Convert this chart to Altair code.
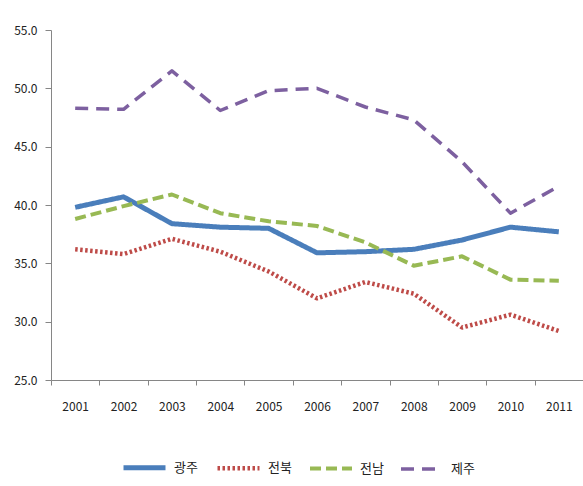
import altair as alt
import pandas as pd

years = ["2001", "2002", "2003", "2004", "2005", "2006", "2007", "2008", "2009", "2010", "2011"]
gwangju = [39.8, 40.7, 38.4, 38.1, 38.0, 35.9, 36.0, 36.2, 37.0, 38.1, 37.7]
jeonbuk = [36.2, 35.8, 37.1, 36.0, 34.3, 32.0, 33.4, 32.4, 29.5, 30.6, 29.2]
jeonnam = [38.8, 39.9, 40.9, 39.3, 38.6, 38.2, 36.8, 34.8, 35.6, 33.6, 33.5]
jeju = [48.3, 48.2, 51.5, 48.1, 49.8, 50.0, 48.4, 47.3, 43.7, 39.3, 41.6]

series_names = ["광주", "전북", "전남", "제주"]
series_vals = [gwangju, jeonbuk, jeonnam, jeju]
colors = ["#4a7ebb", "#be4b48", "#98b954", "#7d60a0"]
dashes = [[1, 0], [2.5, 2.5], [11, 5], [13, 8]]
widths = [5, 3.5, 4.5, 4.5]

rows = []
for name, vals in zip(series_names, series_vals):
    for y, v in zip(years, vals):
        rows.append({"year": y, "value": v, "series": name})
df = pd.DataFrame(rows)

font = "Noto Sans CJK KR"

legend_cfg = dict(title=None, orient="none", direction="horizontal",
                  legendX=70, legendY=414, symbolType="stroke",
                  symbolSize=1764, symbolStrokeWidth=3,
                  labelFontSize=13, labelFont=font, labelColor="#222",
                  columnPadding=10, labelOffset=6)

chart = alt.Chart(df).mark_line(strokeCap="butt", strokeJoin="round").encode(
    x=alt.X("year:O", scale=alt.Scale(type="band", paddingInner=0, paddingOuter=0),
            axis=alt.Axis(title=None, labelAngle=0, tickBand="extent", tickSize=5,
                          labelPadding=16, domainColor="#868686", tickColor="#868686",
                          labelFontSize=12, labelColor="#222", labelFont=font)),
    y=alt.Y("value:Q", scale=alt.Scale(domain=[25, 55], nice=False, zero=False),
            axis=alt.Axis(title=None, values=[25, 30, 35, 40, 45, 50, 55], format=".1f",
                          grid=False, tickSize=6, labelPadding=8, domainColor="#868686",
                          tickColor="#868686", labelFontSize=12, labelColor="#222",
                          labelFont=font)),
    color=alt.Color("series:N", sort=series_names,
                    scale=alt.Scale(domain=series_names, range=colors),
                    legend=alt.Legend(**legend_cfg)),
    strokeDash=alt.StrokeDash("series:N", sort=series_names,
                              scale=alt.Scale(domain=series_names, range=dashes),
                              legend=alt.Legend(**legend_cfg)),
    strokeWidth=alt.StrokeWidth("series:N", scale=alt.Scale(domain=series_names, range=widths),
                                legend=None),
).properties(
    width=532, height=350,
    padding={"left": 51, "top": 30, "right": 0, "bottom": 106},
    autosize=alt.AutoSizeParams(type="none"),
    background="white",
).configure_view(stroke=None)

chart.save("out.html", embed_options={"renderer": "svg", "actions": False})
